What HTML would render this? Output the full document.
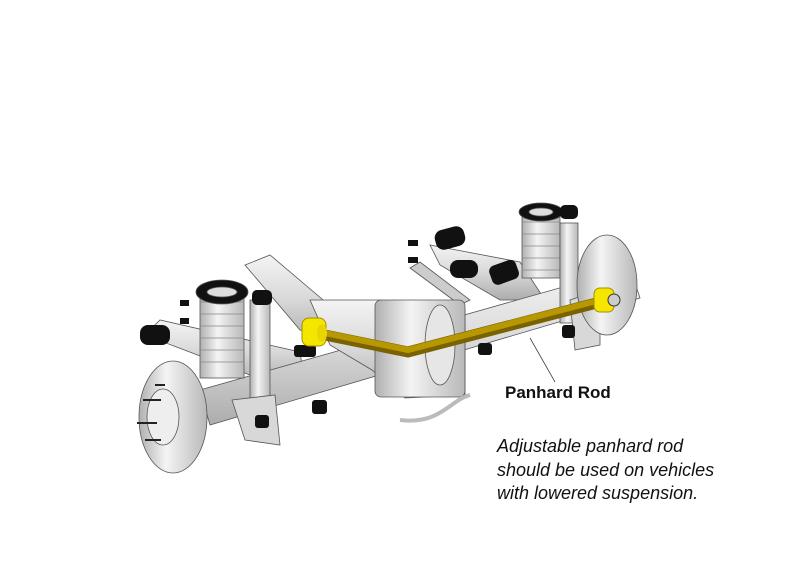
<!DOCTYPE html>
<html><head><style>
body{margin:0;background:#fff;width:804px;height:573px;overflow:hidden;position:relative;font-family:"Liberation Sans",sans-serif}
.t1{position:absolute;left:505px;top:383px;font-weight:bold;font-size:17px;color:#111}
.t2{position:absolute;left:497px;top:435px;font-style:italic;font-size:18px;line-height:23.5px;color:#111}
</style></head><body>
<svg width="804" height="573" style="position:absolute;left:0;top:0">
<defs>
<linearGradient id="g" x1="0" y1="0" x2="0" y2="1"><stop offset="0" stop-color="#f4f4f4"/><stop offset="0.5" stop-color="#d8d8d8"/><stop offset="1" stop-color="#adadad"/></linearGradient>
<linearGradient id="gh" x1="0" y1="0" x2="1" y2="0"><stop offset="0" stop-color="#b0b0b0"/><stop offset="0.4" stop-color="#f4f4f4"/><stop offset="1" stop-color="#b8b8b8"/></linearGradient>
</defs>
<g stroke="#555" stroke-width="0.8">
<polygon points="430,245 520,262 545,300 500,300 440,265" fill="url(#g)"/>
<polygon points="245,265 270,255 335,310 380,305 350,345 300,330" fill="url(#g)"/>
<polygon points="145,335 160,320 300,352 305,385 250,375" fill="url(#g)"/>
<polygon points="410,268 420,262 470,300 460,305" fill="#ccc"/>
<rect x="522" y="210" width="38" height="68" fill="url(#gh)"/>
<g stroke="#888" fill="none"><path d="M522,222h38M522,234h38M522,246h38M522,258h38M522,270h38"/></g>
<ellipse cx="541" cy="212" rx="22" ry="9" fill="#111"/><ellipse cx="541" cy="212" rx="12" ry="4" fill="#ddd"/>
<polygon points="200,390 630,268 640,298 210,425" fill="url(#g)"/>
<polygon points="310,300 380,300 465,310 465,395 405,398 372,370 330,345" fill="url(#g)"/>
<rect x="375" y="300" width="90" height="97" rx="6" fill="url(#gh)"/>
<ellipse cx="440" cy="345" rx="15" ry="40" fill="#e6e6e6"/>
<path d="M400,420 C440,425 450,400 470,395" fill="none" stroke="#bbb" stroke-width="4"/>
<rect x="200" y="290" width="44" height="88" fill="url(#gh)"/>
<g stroke="#888" fill="none"><path d="M200,302h44M200,314h44M200,326h44M200,338h44M200,350h44M200,362h44"/></g>
<ellipse cx="222" cy="292" rx="26" ry="12" fill="#111"/><ellipse cx="222" cy="292" rx="15" ry="5" fill="#ddd"/>
<rect x="250" y="300" width="20" height="120" fill="url(#gh)"/>
<rect x="560" y="223" width="18" height="100" fill="url(#gh)"/>
<polygon points="232,400 275,395 280,445 245,440" fill="#d8d8d8"/>
<polygon points="570,300 600,290 600,345 575,350" fill="#d8d8d8"/>
<ellipse cx="173" cy="417" rx="34" ry="56" fill="url(#gh)"/>
<ellipse cx="163" cy="417" rx="16" ry="28" fill="#eee"/>
<ellipse cx="607" cy="285" rx="30" ry="50" fill="url(#gh)"/>
</g>
<g stroke="#222" stroke-width="2"><path d="M137,423h20M143,400h18M145,440h16M155,385h10"/></g>
<g fill="#111">
<rect x="140" y="325" width="30" height="20" rx="8"/>
<rect x="435" y="228" width="30" height="20" rx="8" transform="rotate(-15 450 238)"/>
<rect x="450" y="260" width="28" height="18" rx="8"/>
<rect x="490" y="262" width="28" height="20" rx="6" transform="rotate(-20 505 272)"/>
<rect x="252" y="290" width="20" height="15" rx="5"/>
<rect x="560" y="205" width="18" height="14" rx="5"/>
<rect x="255" y="415" width="14" height="13" rx="3"/>
<rect x="562" y="325" width="13" height="13" rx="3"/>
<rect x="294" y="345" width="22" height="12" rx="3"/>
<rect x="312" y="400" width="15" height="14" rx="3"/>
<rect x="478" y="343" width="14" height="12" rx="3"/>
<rect x="408" y="240" width="10" height="6"/><rect x="408" y="257" width="10" height="6"/>
<rect x="180" y="300" width="9" height="6"/><rect x="180" y="318" width="9" height="6"/>
</g>
<polyline points="315,333 408,352 608,300" fill="none" stroke="#7a6200" stroke-width="11"/>
<polyline points="315,331 408,350 608,298" fill="none" stroke="#b89800" stroke-width="6"/>
<rect x="302" y="318" width="24" height="28" rx="7" fill="#f5e600" stroke="#a09000"/>
<ellipse cx="322" cy="333" rx="5" ry="9" fill="#e8d400"/>
<rect x="594" y="288" width="20" height="24" rx="6" fill="#f5e600" stroke="#a09000"/>
<circle cx="614" cy="300" r="6" fill="#ccc" stroke="#333"/>
<line x1="530" y1="338" x2="555" y2="382" stroke="#444" stroke-width="0.8"/>
</svg>
<div class="t1">Panhard Rod</div>
<div class="t2">Adjustable panhard rod<br>should be used on vehicles<br>with lowered suspension.</div>
</body></html>
